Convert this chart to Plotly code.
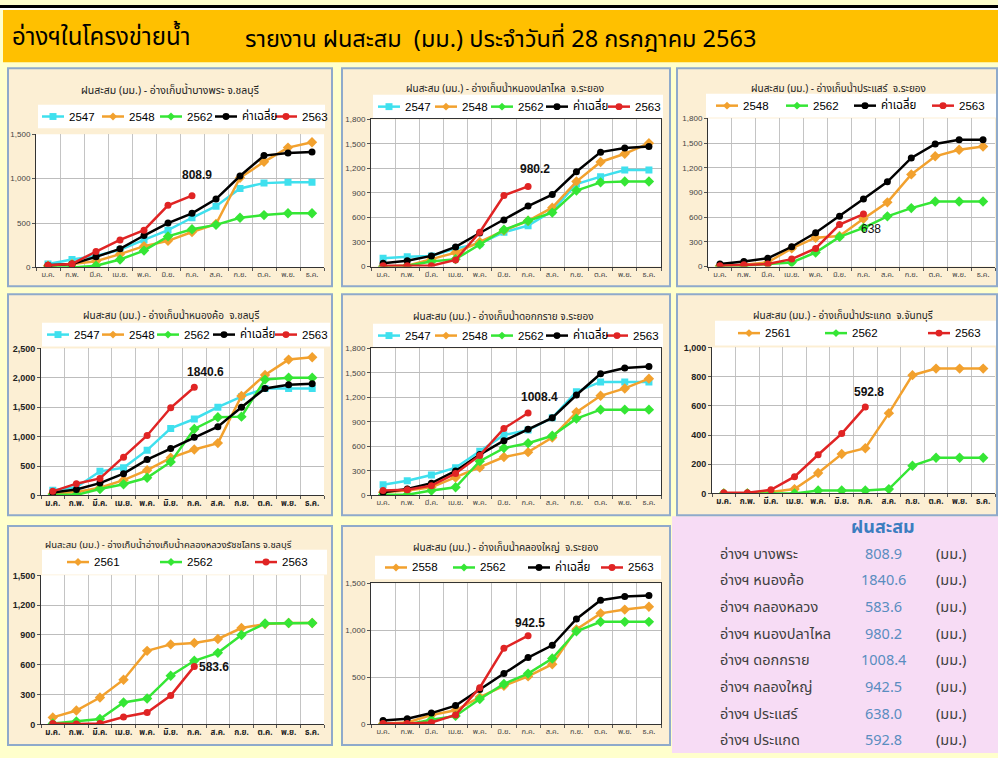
import plotly.graph_objects as go

W, H = 998, 758
def px(x): return x / W
def py(y): return 1 - y / H

months = ["ม.ค.", "ก.พ.", "มี.ค.", "เม.ย.", "พ.ค.", "มิ.ย.", "ก.ค.", "ส.ค.", "ก.ย.", "ต.ค.", "พ.ย.", "ธ.ค."]
avg_name = "ค่าเฉลี่ย"

# 1 Bang Phra
bp_2547 = [40, 90, 130, 200, 310, 420, 560, 690, 890, 950, 960, 960]
bp_2548 = [20, 40, 70, 150, 240, 300, 400, 490, 1010, 1190, 1350, 1410]
bp_2562 = [0, 0, 20, 90, 190, 350, 430, 480, 560, 590, 610, 610]
bp_avg = [25, 40, 120, 210, 360, 500, 610, 770, 1030, 1260, 1290, 1300]
bp_2563 = [25, 40, 180, 310, 420, 700, 808.9]
# 2 Nong Pla Lai
npl_2547 = [100, 120, 130, 220, 280, 420, 500, 680, 1010, 1100, 1180, 1180]
npl_2548 = [0, 10, 90, 170, 300, 440, 560, 720, 1040, 1280, 1380, 1510]
npl_2562 = [0, 10, 60, 90, 270, 450, 560, 660, 930, 1030, 1040, 1040]
npl_avg = [40, 70, 130, 240, 410, 570, 740, 880, 1160, 1400, 1450, 1470]
npl_2563 = [10, 10, 10, 80, 420, 870, 980.2]
# 3 Prasae
ps_2548 = [10, 20, 50, 220, 350, 370, 580, 780, 1120, 1340, 1420, 1460]
ps_2562 = [0, 10, 30, 50, 170, 360, 470, 610, 710, 790, 790, 790]
ps_avg = [30, 60, 100, 240, 410, 610, 820, 1030, 1320, 1490, 1540, 1540]
ps_2563 = [10, 20, 30, 90, 220, 510, 638.0]
# 4 Nong Kho
nk_2547 = [90, 140, 410, 470, 770, 1140, 1300, 1500, 1680, 1820, 1820, 1820]
nk_2548 = [30, 60, 130, 260, 430, 640, 780, 890, 1690, 2050, 2310, 2350]
nk_2562 = [10, 10, 110, 190, 300, 570, 1130, 1330, 1340, 1970, 2000, 2000]
nk_avg = [50, 100, 210, 370, 610, 800, 990, 1170, 1500, 1820, 1880, 1900]
nk_2563 = [70, 200, 290, 650, 1020, 1490, 1840.6]
# 5 Dok Krai
dk_2547 = [130, 180, 250, 340, 540, 740, 800, 950, 1270, 1390, 1390, 1390]
dk_2548 = [40, 60, 100, 220, 340, 470, 530, 710, 1020, 1220, 1310, 1430]
dk_2562 = [10, 10, 60, 100, 420, 580, 640, 730, 940, 1050, 1050, 1050]
dk_avg = [40, 80, 150, 300, 500, 670, 810, 950, 1230, 1490, 1560, 1580]
dk_2563 = [60, 70, 120, 270, 490, 820, 1008.4]
# 6 Prakaet
pk_2561 = [0, 0, 10, 30, 140, 270, 310, 550, 810, 855, 855, 855]
pk_2562 = [0, 0, 0, 0, 20, 20, 20, 30, 190, 245, 245, 245]
pk_2563 = [5, 5, 25, 115, 265, 410, 592.8]
# 7 Khlong Luang
kl_2561 = [70, 140, 270, 450, 740, 805, 820, 860, 970, 1010, 1020, 1020]
kl_2562 = [10, 30, 55, 220, 260, 490, 640, 720, 900, 1015, 1020, 1020]
kl_2563 = [10, 5, 10, 75, 120, 290, 583.6]
# 8 Khlong Yai
ky_2558 = [10, 20, 100, 150, 290, 410, 510, 640, 1010, 1180, 1220, 1250]
ky_2562 = [0, 0, 50, 90, 270, 430, 540, 700, 990, 1090, 1090, 1090]
ky_avg = [40, 60, 120, 200, 370, 540, 710, 840, 1120, 1320, 1360, 1370]
ky_2563 = [10, 10, 20, 100, 390, 810, 942.5]

table_names = ["อ่างฯ บางพระ", "อ่างฯ หนองค้อ", "อ่างฯ คลองหลวง", "อ่างฯ หนองปลาไหล",
               "อ่างฯ ดอกกราย", "อ่างฯ คลองใหญ่", "อ่างฯ ประแสร์", "อ่างฯ ประแกด"]
table_values = [808.9, 1840.6, 583.6, 980.2, 1008.4, 942.5, 638.0, 592.8]

STY = {
    "cyan": dict(color="#3FE0EE", symbol="square"),
    "orange": dict(color="#F2A12E", symbol="diamond"),
    "green": dict(color="#35E635", symbol="diamond"),
    "black": dict(color="#000000", symbol="circle"),
    "red": dict(color="#E02424", symbol="circle"),
}

THAI = "Tahoma, 'Noto Sans Thai', 'Leelawadee UI', 'DejaVu Sans', sans-serif"
NUM = "'Liberation Sans', Arial, sans-serif"

charts = [
    dict(title="ฝนสะสม (มม.) - อ่างเก็บน้ำบางพระ จ.ชลบุรี", panel=(8, 64, 332, 285),
         plot=(36, 131, 324, 266), ymax=1500, dt=500, tpos=(170, 87), tsize=10.5,
         lbox=(38, 101, 325, 125), lx=[42, 102, 160, 215, 275],
         series=[("2547", bp_2547, "cyan"), ("2548", bp_2548, "orange"), ("2562", bp_2562, "green"),
                 (avg_name, bp_avg, "black"), ("2563", bp_2563, "red")],
         lab=(0.2, 1040), bold=False, mirror=False),
    dict(title="ฝนสะสม (มม.) - อ่างเก็บน้ำหนองปลาไหล  จ.ระยอง", panel=(342, 64, 670, 285),
         plot=(371, 116, 661, 265), ymax=1800, dt=300, tpos=(505, 85), tsize=10,
         lbox=(373, 91, 663, 115), lx=[378, 435, 491, 546, 608],
         series=[("2547", npl_2547, "cyan"), ("2548", npl_2548, "orange"), ("2562", npl_2562, "green"),
                 (avg_name, npl_avg, "black"), ("2563", npl_2563, "red")],
         lab=(0.3, 1193), bold=False, mirror=True),
    dict(title="ฝนสะสม (มม.) - อ่างเก็บน้ำประแสร์  จ.ระยอง", panel=(677, 64, 997, 285),
         plot=(708, 115, 995, 265), ymax=1800, dt=300, tpos=(838, 85), tsize=10,
         lbox=(706, 90, 996, 114), lx=[716, 786, 854, 932],
         series=[("2548", ps_2548, "orange"), ("2562", ps_2562, "green"),
                 (avg_name, ps_avg, "black"), ("2563", ps_2563, "red")],
         lab=(0.33, 458), bold=False, mirror=False, labbold=False),
    dict(title="ฝนสะสม (มม.) - อ่างเก็บน้ำหนองค้อ  จ.ชลบุรี", panel=(8, 293, 332, 517),
         plot=(41, 348, 324, 497), ymax=2500, dt=500, tpos=(171, 315), tsize=10,
         lbox=(42, 322, 330, 346), lx=[47, 102, 157, 213, 275],
         series=[("2547", nk_2547, "cyan"), ("2548", nk_2548, "orange"), ("2562", nk_2562, "green"),
                 (avg_name, nk_avg, "black"), ("2563", nk_2563, "red")],
         lab=(0.47, 2091), bold=True, mirror=False),
    dict(title="ฝนสะสม (มม.) - อ่างเก็บน้ำดอกกราย จ.ระยอง", panel=(342, 293, 670, 517),
         plot=(371, 348, 661, 497), ymax=1800, dt=300, tpos=(504, 316), tsize=10,
         lbox=(373, 323, 663, 347), lx=[378, 435, 491, 546, 606],
         series=[("2547", dk_2547, "cyan"), ("2548", dk_2548, "orange"), ("2562", dk_2562, "green"),
                 (avg_name, dk_avg, "black"), ("2563", dk_2563, "red")],
         lab=(0.46, 1204), bold=False, mirror=True),
    dict(title="ฝนสะสม (มม.) - อ่างเก็บน้ำประแกด  จ.จันทบุรี", panel=(677, 293, 997, 517),
         plot=(712, 347, 995, 495), ymax=1000, dt=200, tpos=(843, 315), tsize=10,
         lbox=(715, 320, 996, 345), lx=[738, 825, 928],
         series=[("2561", pk_2561, "orange"), ("2562", pk_2562, "green"), ("2563", pk_2563, "red")],
         lab=(0.17, 697), bold=True, mirror=False),
    dict(title="ฝนสะสม (มม.) - อ่างเก็บน้ำอ่างเก็บน้ำคลองหลวงรัชชโลทร จ.ชลบุรี", panel=(8, 528, 332, 750),
         plot=(41, 578, 324, 729), ymax=1500, dt=300, tpos=(168, 547), tsize=9.5,
         lbox=(42, 552, 327, 577), lx=[67, 160, 255],
         series=[("2561", kl_2561, "orange"), ("2562", kl_2562, "green"), ("2563", kl_2563, "red")],
         lab=(0.85, 573), bold=True, mirror=False),
    dict(title="ฝนสะสม (มม.) - อ่างเก็บน้ำคลองใหญ่  จ.ระยอง", panel=(342, 528, 670, 750),
         plot=(371, 586, 661, 729), ymax=1500, dt=500, tpos=(505, 550), tsize=10,
         lbox=(375, 558, 661, 582), lx=[385, 453, 528, 601],
         series=[("2558", ky_2558, "orange"), ("2562", ky_2562, "green"),
                 (avg_name, ky_avg, "black"), ("2563", ky_2563, "red")],
         lab=(0.08, 1082), bold=False, mirror=True),
]

fig = go.Figure()
shapes = []
annotations = []

def rect(x0, y0, x1, y1, fill, line=None, lw=0):
    d = dict(type="rect", xref="paper", yref="paper", x0=px(x0), x1=px(x1),
             y0=py(y1), y1=py(y0), fillcolor=fill, layer="below")
    d["line"] = dict(color=line, width=lw) if line else dict(width=0)
    return d

# background areas
shapes.append(rect(0, 0, 998, 3, "#000000"))
shapes.append(rect(0, 3, 998, 5, "#FFFFFF"))
shapes.append(rect(3, 5, 998, 58, "#FFC000"))
shapes.append(rect(672, 518, 998, 758, "#F7DCF5"))

annotations.append(dict(text="อ่างฯในโครงข่ายน้ำ", x=px(10), y=py(33), xref="paper", yref="paper",
                        xanchor="left", yanchor="middle", showarrow=False,
                        font=dict(family=THAI, size=24, color="#000000")))
annotations.append(dict(text="รายงาน ฝนสะสม  (มม.) ประจำวันที่ 28 กรกฎาคม 2563", x=px(243), y=py(35),
                        xref="paper", yref="paper", xanchor="left", yanchor="middle", showarrow=False,
                        font=dict(family=THAI, size=23.5, color="#000000")))

layout_axes = {}
for i, c in enumerate(charts):
    n = "" if i == 0 else str(i + 1)
    xa, ya = "x" + n, "y" + n
    p0x, p0y, p1x, p1y = c["panel"]
    shapes.append(rect(p0x, p0y, p1x, p1y, "#FCEFD4", "#8FAACB", 2))
    bx0, by0, bx1, by1 = c["lbox"]
    shapes.append(rect(bx0, by0, bx1, by1, "#FFFFFF"))
    x0, y0, x1, y1 = c["plot"]
    shapes.append(rect(x0, y0, x1, y1, "#FFFFFF"))

    bold = c["bold"]
    tf = dict(family=NUM, size=9 if bold else 8, color="#222222" if bold else "#444444",
              weight="bold" if bold else "normal")
    xf = dict(family=THAI, size=8 if bold else 7.5, color="#222222" if bold else "#444444",
              weight="bold" if bold else "normal")
    layout_axes["xaxis" + n] = dict(
        domain=[px(x0), px(x1)], anchor=ya, type="category", categoryorder="array",
        categoryarray=months, range=[-0.5, 11.5], tickson="boundaries", tickangle=0,
        showgrid=True, gridcolor="#C4C4C4", gridwidth=1, ticks="outside", ticklen=3,
        tickcolor="#555555", showline=True, linecolor="#333333", linewidth=1,
        mirror=c["mirror"], tickfont=xf, fixedrange=True, zeroline=False)
    layout_axes["yaxis" + n] = dict(
        domain=[py(y1), py(y0)], anchor=xa, range=[0, c["ymax"]], dtick=c["dt"], tick0=0,
        tickformat=",", showgrid=True, gridcolor="#BDBDBD", gridwidth=1, ticks="outside",
        ticklen=3, tickcolor="#555555", showline=True, linecolor="#333333", linewidth=1,
        mirror=c["mirror"], tickfont=tf, fixedrange=True, zeroline=False)

    for name, vals, sk in c["series"]:
        s = STY[sk]
        fig.add_trace(go.Scatter(
            x=months[:len(vals)], y=vals, name=name, mode="lines+markers",
            line=dict(color=s["color"], width=2.5),
            marker=dict(color=s["color"], symbol=s["symbol"], size=7 if s["symbol"] != "diamond" else 8),
            xaxis=xa, yaxis=ya, showlegend=False, hoverinfo="skip"))

    # value label of latest series
    last = c["series"][-1][1]
    dxo, ylab = c["lab"]
    annotations.append(dict(text=f"{last[-1]:g}", x=len(last) - 1 + dxo, y=ylab, xref=xa, yref=ya,
                            showarrow=False, xanchor="center", yanchor="middle",
                            font=dict(family=NUM, size=12, color="#111111",
                                      weight="bold" if c.get("labbold", True) else "normal")))

    # title
    annotations.append(dict(text=c["title"], x=px(c["tpos"][0]), y=py(c["tpos"][1]), xref="paper",
                            yref="paper", showarrow=False, xanchor="center", yanchor="middle",
                            font=dict(family=THAI, size=c["tsize"], color="#222222")))

    # legend entries
    ly = (by0 + by1) / 2
    for (name, vals, sk), lx in zip(c["series"], c["lx"]):
        s = STY[sk]
        shapes.append(dict(type="line", xref="paper", yref="paper", x0=px(lx), x1=px(lx + 22),
                           y0=py(ly), y1=py(ly), line=dict(color=s["color"], width=2.5)))
        cx = lx + 11
        r = 3.5
        if s["symbol"] == "circle":
            shapes.append(dict(type="circle", xref="paper", yref="paper", x0=px(cx - r), x1=px(cx + r),
                               y0=py(ly + r), y1=py(ly - r), fillcolor=s["color"], line=dict(width=0)))
        elif s["symbol"] == "square":
            shapes.append(dict(type="rect", xref="paper", yref="paper", x0=px(cx - r), x1=px(cx + r),
                               y0=py(ly + r), y1=py(ly - r), fillcolor=s["color"], line=dict(width=0)))
        else:
            r = 4
            path = (f"M {px(cx)},{py(ly - r)} L {px(cx + r)},{py(ly)} L {px(cx)},{py(ly + r)} "
                    f"L {px(cx - r)},{py(ly)} Z")
            shapes.append(dict(type="path", xref="paper", yref="paper", path=path,
                               fillcolor=s["color"], line=dict(width=0)))
        annotations.append(dict(text=name, x=px(lx + 25), y=py(ly), xref="paper", yref="paper",
                                showarrow=False, xanchor="left", yanchor="middle",
                                font=dict(family=THAI if name == avg_name else NUM, size=11.5,
                                          color="#000000")))

# summary table
annotations.append(dict(text="<b>ฝนสะสม</b>", x=px(883), y=py(529), xref="paper", yref="paper",
                        showarrow=False, xanchor="center", yanchor="middle",
                        font=dict(family=THAI, size=18, color="#3B7DBF")))
for k, (nm, v) in enumerate(zip(table_names, table_values)):
    yy = 557 + 27 * k
    annotations.append(dict(text=nm, x=px(718), y=py(yy), xref="paper", yref="paper", showarrow=False,
                            xanchor="left", yanchor="middle",
                            font=dict(family=THAI, size=14.5, color="#404040")))
    annotations.append(dict(text=f"{v:.1f}", x=px(883), y=py(yy), xref="paper", yref="paper",
                            showarrow=False, xanchor="center", yanchor="middle",
                            font=dict(family=THAI, size=14.5, color="#5A8DC0")))
    annotations.append(dict(text="(มม.)", x=px(951), y=py(yy), xref="paper", yref="paper",
                            showarrow=False, xanchor="center", yanchor="middle",
                            font=dict(family=THAI, size=14.5, color="#404040")))

fig.update_layout(
    width=W, height=H, margin=dict(l=0, r=0, t=0, b=0), autosize=False,
    paper_bgcolor="#FFFFCC", plot_bgcolor="#FFFFFF", showlegend=False,
    shapes=shapes, annotations=annotations, **layout_axes)

fig.write_html("out.html", config={"displayModeBar": False},
               post_script="document.body.style.margin='0';document.body.style.overflow='hidden';"
                           "document.documentElement.style.overflow='hidden';")
